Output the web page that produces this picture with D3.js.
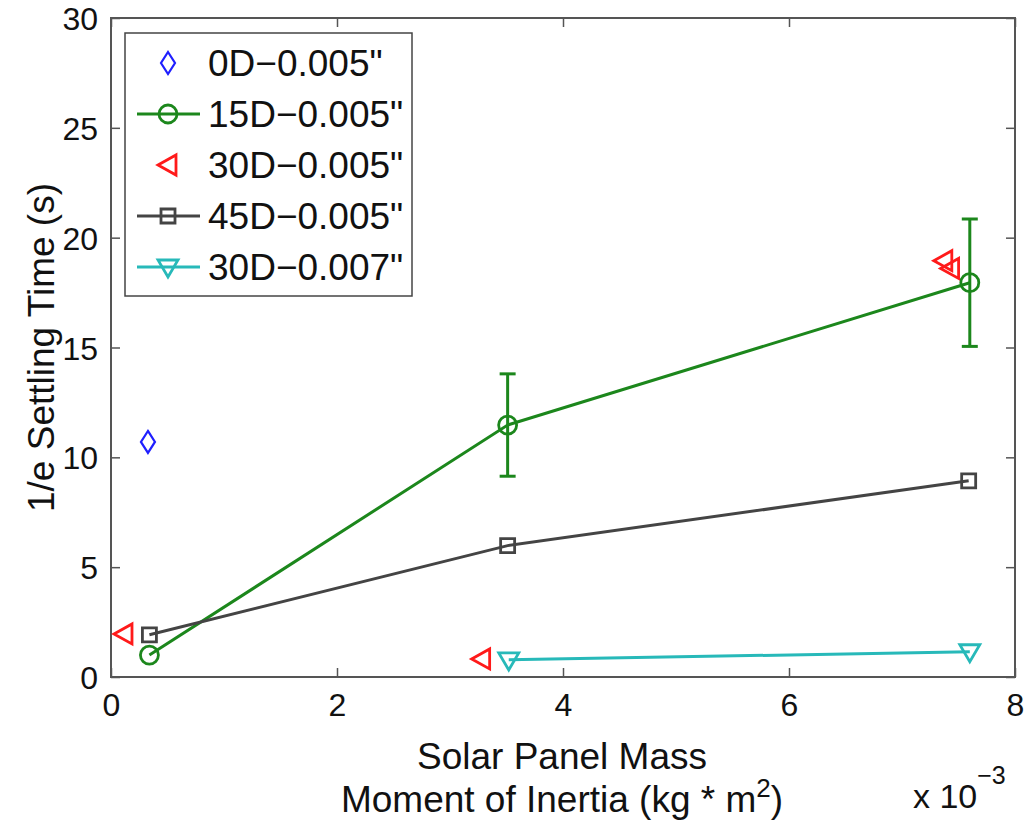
<!DOCTYPE html>
<html>
<head>
<meta charset="utf-8">
<script src="https://cdn.jsdelivr.net/npm/d3@7"></script>
<style>
  body { margin: 0; background: #fff; }
  svg { display: block; font-family: "Liberation Sans", Arial, Helvetica, sans-serif; }
</style>
</head>
<body>
<svg id="chart" width="1028" height="830"></svg>
<script>
// moment of inertia (kg*m^2) and 1/e settling time (s)
const x0D = [0.000327];
const y0D = [10.7];

const x15D = [0.00034, 0.00351, 0.0076];
const y15D = [1.0, 11.47, 17.95];
const err15D = [0, 2.33, 2.9];

const x30D = [0.000115, 0.00328, 0.00737, 0.00743];
const y30D = [1.96, 0.82, 18.95, 18.6];

const x45D = [0.00034, 0.00351, 0.00759];
const y45D = [1.92, 5.98, 8.93];

const x30D7 = [0.00352, 0.0076];
const y30D7 = [0.78, 1.15];

const xTicks = [0, 0.002, 0.004, 0.006, 0.008];
const yTicks = [0, 5, 10, 15, 20, 25, 30];

const legendLabels = ['0D\u22120.005"', '15D\u22120.005"', '30D\u22120.005"', '45D\u22120.005"', '30D\u22120.007"'];

const series = [
  { xs: x0D, ys: y0D, color: '#1f1fff', marker: 'diamond', line: false },
  { xs: x15D, ys: y15D, err: err15D, color: '#1c871c', marker: 'circle', line: true },
  { xs: x30D, ys: y30D, color: '#ff1a1a', marker: 'left', line: false },
  { xs: x45D, ys: y45D, color: '#444444', marker: 'square', line: true },
  { xs: x30D7, ys: y30D7, color: '#27b9b9', marker: 'down', line: true }
];

const margin = { top: 18, left: 111, right: 13, bottom: 153 };
const width = 1028 - margin.left - margin.right;
const height = 830 - margin.top - margin.bottom;

const svg = d3.select('#chart');
const g = svg.append('g').attr('transform', `translate(${margin.left},${margin.top})`);

const x = d3.scaleLinear().domain([0, 0.008]).range([0, width]);
const y = d3.scaleLinear().domain([0, 30]).range([height, 0]);

const axisColor = '#555';
const tickLen = 9;
const tickFont = 32;

// axes with inward ticks, box all round
const fmtX = d => String(Math.round(d * 1000));
g.append('g').attr('transform', `translate(0,${height})`)
  .call(d3.axisBottom(x).tickValues(xTicks).tickSize(-tickLen).tickPadding(16).tickFormat(fmtX))
  .call(a => a.select('.domain').remove());
g.append('g')
  .call(d3.axisTop(x).tickValues(xTicks).tickSize(-tickLen).tickFormat(''))
  .call(a => a.select('.domain').remove());
g.append('g')
  .call(d3.axisLeft(y).tickValues(yTicks).tickSize(-tickLen).tickPadding(13))
  .call(a => a.select('.domain').remove())
  .call(a => a.selectAll('text').attr('dy', '0.36em'));
g.append('g').attr('transform', `translate(${width},0)`)
  .call(d3.axisRight(y).tickValues(yTicks).tickSize(-tickLen).tickFormat(''))
  .call(a => a.select('.domain').remove());
g.selectAll('.tick line').attr('stroke', axisColor).attr('stroke-width', 1.5);
g.selectAll('.tick text')
  .attr('font-family', '"Liberation Sans", Arial, sans-serif')
  .attr('font-size', tickFont).attr('fill', '#111');

g.append('rect').attr('width', width).attr('height', height)
  .attr('fill', 'none').attr('stroke', axisColor).attr('stroke-width', 2);

// marker shapes
function markerPath(type) {
  switch (type) {
    case 'diamond': return 'M0,-11L7,0L0,11L-7,0Z';
    case 'left': return 'M-10,0L8,-10L8,10Z';
    case 'down': return 'M-10,-7L10,-7L0,10Z';
    case 'square': return 'M-7,-7H7V7H-7Z';
    default: return null;
  }
}
function drawMarker(sel, type, color) {
  if (type === 'circle') {
    sel.append('circle').attr('r', 9).attr('fill', 'none')
      .attr('stroke', color).attr('stroke-width', 2.8);
  } else {
    sel.append('path').attr('d', markerPath(type)).attr('fill', 'none')
      .attr('stroke', color).attr('stroke-width', type === 'diamond' ? 2.2 : 2.8)
      .attr('stroke-linejoin', 'miter');
  }
}

const line = d3.line().x(d => x(d[0])).y(d => y(d[1]));

series.forEach(s => {
  const pts = s.xs.map((v, i) => [v, s.ys[i]]);
  if (s.line) {
    g.append('path').datum(pts).attr('d', line)
      .attr('fill', 'none').attr('stroke', s.color).attr('stroke-width', 3);
  }
  if (s.err) {
    pts.forEach((p, i) => {
      const e = s.err[i];
      if (!e) return;
      const cx = x(p[0]);
      const eb = g.append('g').attr('stroke', s.color).attr('stroke-width', 3);
      eb.append('line').attr('x1', cx).attr('x2', cx).attr('y1', y(p[1] + e)).attr('y2', y(p[1] - e));
      [p[1] + e, p[1] - e].forEach(v => {
        eb.append('line').attr('x1', cx - 8).attr('x2', cx + 8).attr('y1', y(v)).attr('y2', y(v));
      });
    });
  }
  pts.forEach(p => {
    const m = g.append('g').attr('transform', `translate(${x(p[0])},${y(p[1])})`);
    drawMarker(m, s.marker, s.color);
  });
});

// legend
const lg = svg.append('g').attr('transform', 'translate(125,33)');
lg.append('rect').attr('width', 287).attr('height', 263)
  .attr('fill', '#fff').attr('stroke', '#444').attr('stroke-width', 1.5);
series.forEach((s, i) => {
  const row = lg.append('g').attr('transform', `translate(0,${30 + i * 51})`);
  if (s.line) {
    row.append('line').attr('x1', 12).attr('x2', 75).attr('y1', 0).attr('y2', 0)
      .attr('stroke', s.color).attr('stroke-width', 3);
  }
  drawMarker(row.append('g').attr('transform', 'translate(43,0)'), s.marker, s.color);
  row.append('text').attr('x', 83).attr('y', 13).attr('font-size', 37).attr('fill', '#111')
    .text(legendLabels[i]);
});

// axis titles
svg.append('text').attr('x', 562).attr('y', 769).attr('text-anchor', 'middle')
  .attr('font-size', 37).attr('fill', '#111').text('Solar Panel Mass');
const t2 = svg.append('text').attr('x', 562).attr('y', 812).attr('text-anchor', 'middle')
  .attr('font-size', 37).attr('fill', '#111');
t2.append('tspan').text('Moment of Inertia (kg * m');
t2.append('tspan').attr('dy', -15).attr('font-size', 26).text('2');
t2.append('tspan').attr('dy', 15).text(')');

const ex = svg.append('text').attr('x', 913).attr('y', 808).attr('font-size', 34).attr('fill', '#111');
ex.append('tspan').text('x 10');
ex.append('tspan').attr('dy', -24).attr('font-size', 25).text('\u22123');

svg.append('text').attr('transform', `translate(54,${margin.top + height / 2}) rotate(-90)`)
  .attr('text-anchor', 'middle').attr('font-size', 37).attr('fill', '#111')
  .text('1/e Settling Time (s)');
</script>
</body>
</html>
